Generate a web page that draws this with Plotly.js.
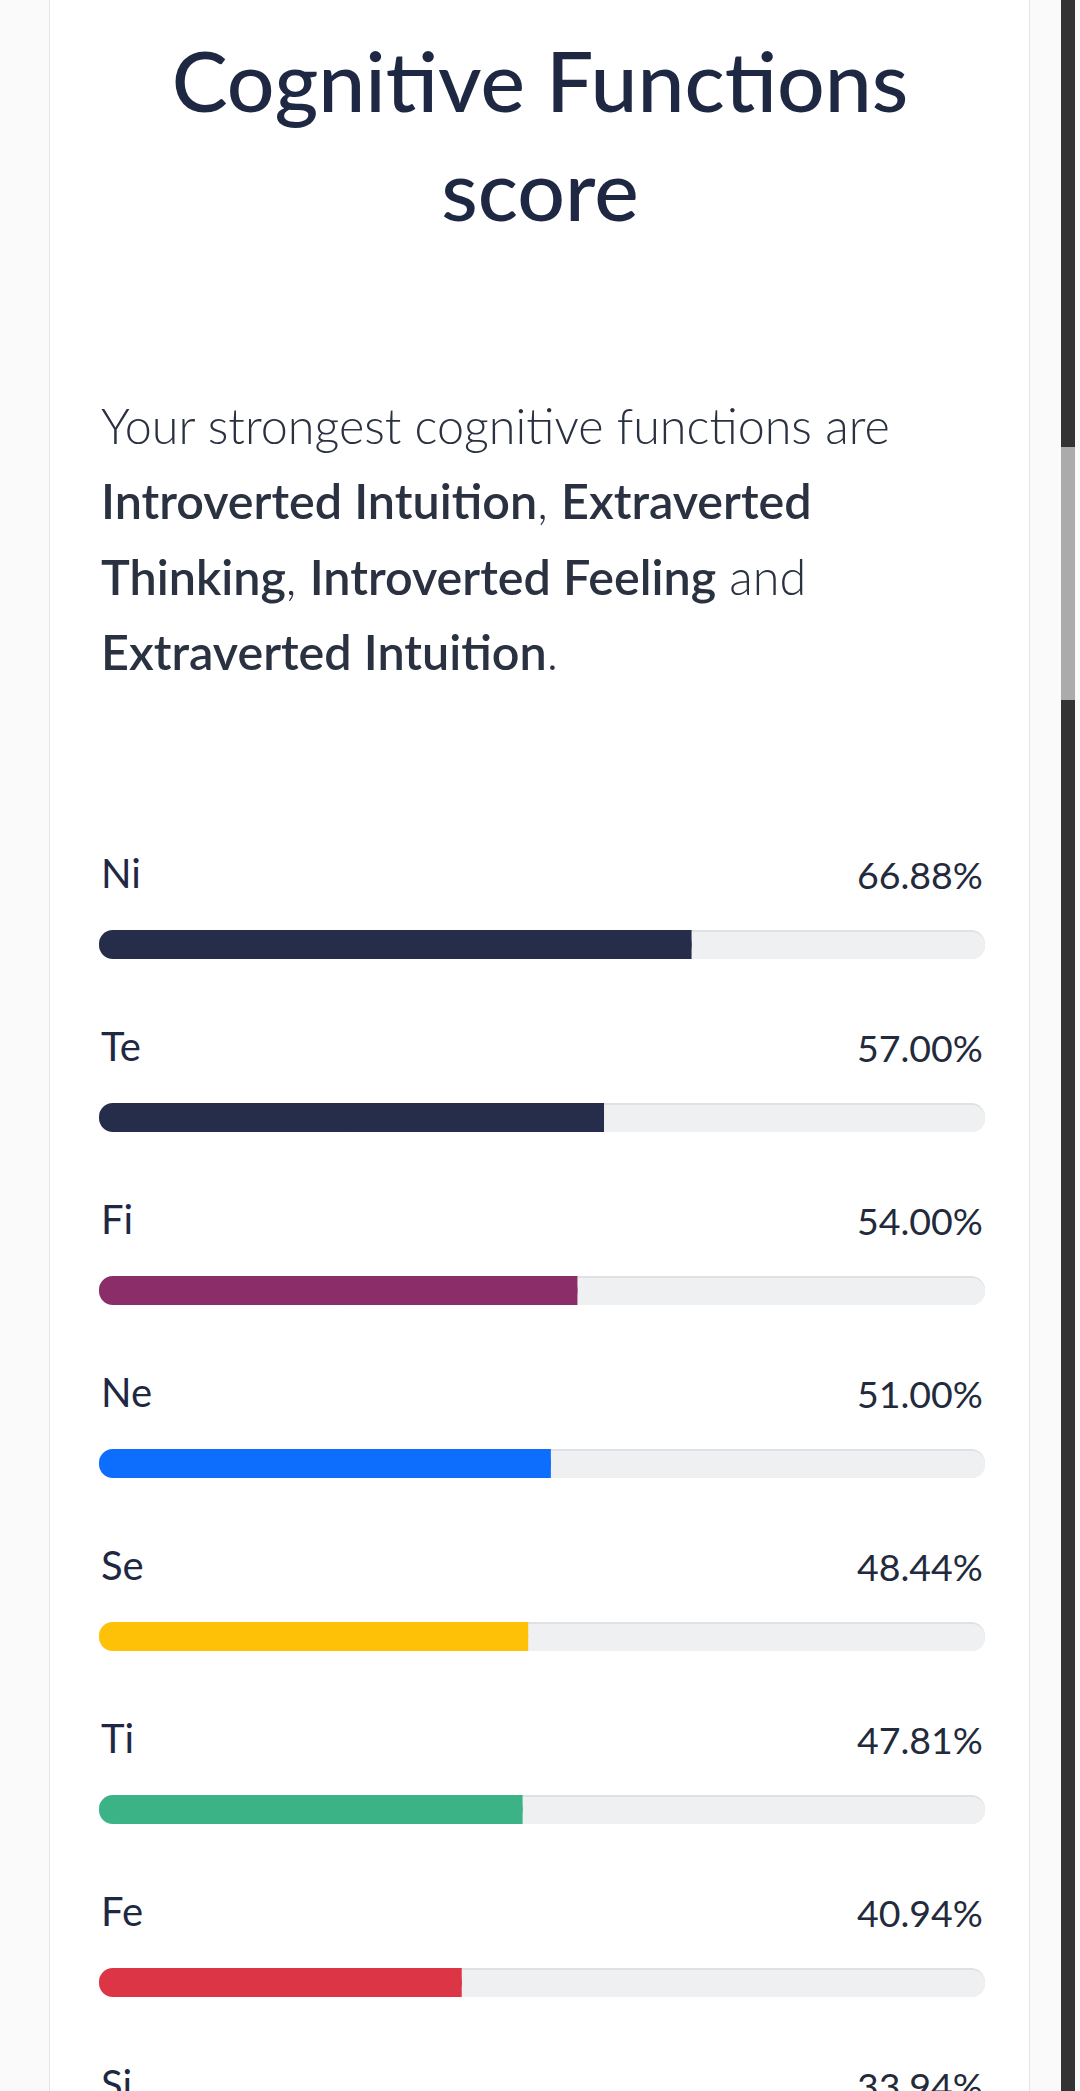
<!DOCTYPE html>
<html>
<head>
<meta charset="utf-8">
<script src="https://cdn.plot.ly/plotly-3.0.1.min.js"></script>
<style>
  html, body { margin:0; padding:0; background:#fafafa; width:1080px; height:2091px; overflow:hidden; }
  #wrap { position:relative; width:1080px; height:2091px; overflow:hidden; }
  #card { position:absolute; left:49px; top:-10px; width:979px; height:2200px; background:#ffffff; border:1.5px solid #e5e5e5; }
  #chart { position:absolute; left:0; top:0; width:1080px; height:2400px; }
  #sb { position:absolute; left:1061px; top:0; width:14px; height:2091px; background:#333333; }
  #thumb { position:absolute; left:1061px; top:447px; width:14px; height:253px; background:#ababab; }
</style>
</head>
<body>
<div id="wrap">
  <div id="card"></div>
  <div id="chart"></div>
  <div id="sb"></div>
  <div id="thumb"></div>
</div>
<script>
// ---- data ----
const functionCodes = ['Ni', 'Te', 'Fi', 'Ne', 'Se', 'Ti', 'Fe', 'Si'];
const scores = [66.88, 57.00, 54.00, 51.00, 48.44, 47.81, 40.94, 33.94];
const barColors = ['#252d4b', '#252d4b', '#8a2d68', '#0d6efd', '#ffc107', '#3cb386', '#dc3545', '#6c757d'];
const scoreLabels = scores.map(s => s.toFixed(2) + '%');
const maxScore = 100;

const titleText = 'Cognitive Functions<br>score';
const introLines = [
  'Your strongest cognitive functions are',
  '<span style="font-weight:600">Introverted Intuition</span>, <span style="font-weight:600">Extraverted</span>',
  '<span style="font-weight:600">Thinking</span>, <span style="font-weight:600">Introverted Feeling</span> and',
  '<span style="font-weight:600">Extraverted Intuition</span>.'
];

// ---- styling ----
const FONT = 'Lato, "Noto Sans", sans-serif';
const navy = '#1f2843';
const trackColor = '#eff0f2';
const shadowColor = '#e0e1e4';
const rowPx = 173;                 // pixels per category row
const px = 1 / rowPx;              // one pixel in category units
const barWidth = 29 * px;          // bar thickness
const radius = 15;

const traces = [
  { // track shadow (darker top edge)
    type: 'bar', orientation: 'h', y: functionCodes,
    x: functionCodes.map(() => maxScore), base: functionCodes.map(() => 0),
    width: barWidth, marker: { color: shadowColor, cornerradius: radius },
    hoverinfo: 'skip', showlegend: false
  },
  { // track
    type: 'bar', orientation: 'h', y: functionCodes,
    x: functionCodes.map(() => maxScore), base: functionCodes.map(() => 0),
    width: barWidth - 2 * px, offset: -barWidth / 2 + 2 * px,
    marker: { color: trackColor, cornerradius: radius },
    hoverinfo: 'skip', showlegend: false
  },
  { // score fill, rounded
    type: 'bar', orientation: 'h', y: functionCodes,
    x: scores, base: scores.map(() => 0),
    width: barWidth, marker: { color: barColors, cornerradius: radius },
    hoverinfo: 'skip', showlegend: false
  },
  { // score fill, square right end
    type: 'bar', orientation: 'h', y: functionCodes,
    x: scores.map(s => s / 2), base: scores.map(s => s / 2),
    width: barWidth, marker: { color: barColors, cornerradius: 0 },
    hoverinfo: 'skip', showlegend: false
  }
];

const annotations = [];
functionCodes.forEach((c, i) => {
  annotations.push({
    xref: 'x', yref: 'y', x: 0, y: c, text: c, showarrow: false,
    xanchor: 'left', yanchor: 'middle', yshift: 72,
    font: { family: FONT, size: 40, color: navy }
  });
  annotations.push({
    xref: 'x', yref: 'y', x: maxScore, y: c, text: scoreLabels[i], showarrow: false,
    xanchor: 'right', yanchor: 'middle', yshift: 70,
    font: { family: FONT, size: 37.5, color: '#222a3c' }
  });
});
const introShifts = [433, 358, 282, 207];
introLines.forEach((t, i) => {
  annotations.push({
    xref: 'paper', yref: 'paper', x: 0, y: 1, text: t, showarrow: false,
    xanchor: 'left', yanchor: 'middle', yshift: introShifts[i],
    font: { family: FONT, size: 48.5, color: '#2a3140', weight: 300 }
  });
});

const topMargin = 858;
const layout = {
  width: 1080, height: 2400,
  margin: { l: 99, r: 95, t: topMargin, b: 2400 - topMargin - rowPx * functionCodes.length },
  paper_bgcolor: 'rgba(0,0,0,0)', plot_bgcolor: 'rgba(0,0,0,0)',
  title: {
    text: titleText, x: 0.5, xref: 'container', xanchor: 'center',
    y: 1 - 112 / 2400, yref: 'container', yanchor: 'top',
    font: { family: FONT, size: 84, color: navy, weight: 500 }
  },
  barmode: 'overlay',
  xaxis: { range: [0, maxScore], visible: false, fixedrange: true },
  yaxis: {
    type: 'category', categoryarray: functionCodes, range: [functionCodes.length - 0.5, -0.5],
    visible: false, fixedrange: true
  },
  annotations: annotations,
  hovermode: false,
  showlegend: false
};

Plotly.newPlot('chart', traces, layout, { staticPlot: true, displayModeBar: false });
</script>
</body>
</html>
